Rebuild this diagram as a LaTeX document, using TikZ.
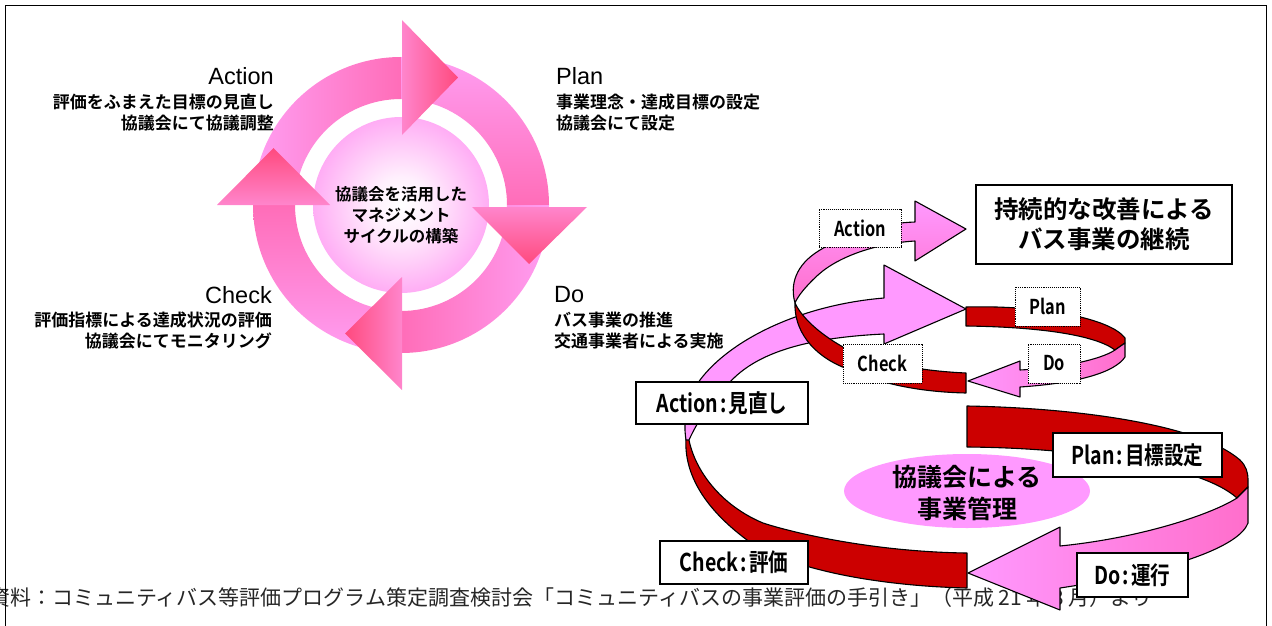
\documentclass[tikz,border=0pt]{standalone}
\usepackage{fontspec}
\setmainfont{Liberation Sans}
\newfontfamily\lsans{Liberation Sans}
\newfontfamily\jpb{Noto Sans CJK JP Bold}
\newfontfamily\jpbc{Noto Sans CJK JP Bold}[FakeStretch=0.8]
\newfontfamily\jpr{Noto Sans CJK JP}
\usetikzlibrary{calc}
\definecolor{ringL}{HTML}{FF9EF2}
\definecolor{ringD}{HTML}{FF6DB8}
\definecolor{ahL}{HTML}{FF85CC}
\definecolor{ahD}{HTML}{FF4A7E}
\definecolor{diskP}{HTML}{FF99F2}
\definecolor{pinkL}{HTML}{FF99FF}
\definecolor{pinkD}{HTML}{FF6ECB}
\definecolor{ribR}{HTML}{CC0000}
\pgfdeclareradialshading{diskshade}{\pgfpoint{0bp}{0bp}}{color(0bp)=(white); color(8bp)=(white!85!diskP); color(30bp)=(diskP); color(50bp)=(diskP)}
\newcommand{\cln}{\hspace{2pt}:\hspace{2pt}}
\tikzset{
  ribbon/.style={draw=black, line width=1.1pt, line join=round},
  redrib/.style={ribbon, fill=ribR},
  dbox/.style={draw=black, densely dotted, line width=0.9pt, fill=white, inner sep=0, font=\jpbc\fontsize{20.5}{20}\selectfont},
  sbox/.style={draw=black, line width=1.3pt, fill=white, inner sep=0, font=\jpbc\fontsize{24.5}{24}\selectfont},
  cyctitle/.style={inner sep=0, font=\lsans\fontsize{23.5}{23.5}\selectfont},
  cycdesc/.style={inner sep=0, font=\jpb\fontsize{17}{21}\selectfont}
}
\begin{document}
\begin{tikzpicture}[x=1pt,y=-1pt]
\useasboundingbox (0,0) rectangle (1272,626);

% caption
\node[anchor=west, inner sep=0, text=black!85, font=\jpr\fontsize{21}{21}\selectfont] (cap) at (-11,598)
 {資料：コミュニティバス等評価プログラム策定調査検討会「コミュニティバスの事業評価の手引き」（平成 21 年 3 月）より};

% ---------- left cycle ----------
\begin{scope}[shift={(401,205)}]
 \shade[left color=ringL, right color=ringD] (180:148) arc[start angle=180,end angle=270,radius=148] -- (270:106) arc[start angle=270,end angle=180,radius=106] -- cycle;
 \shade[top color=ringL, bottom color=ringD] (270:148) arc[start angle=270,end angle=360,radius=148] -- (0:106) arc[start angle=360,end angle=270,radius=106] -- cycle;
 \shade[right color=ringL, left color=ringD] (0:148) arc[start angle=0,end angle=90,radius=148] -- (90:106) arc[start angle=90,end angle=0,radius=106] -- cycle;
 \shade[bottom color=ringL, top color=ringD] (90:148) arc[start angle=90,end angle=180,radius=148] -- (180:106) arc[start angle=180,end angle=90,radius=106] -- cycle;
 \shade[shading=diskshade] (0,0) circle[radius=88];
\end{scope}
\shade[left color=ahL, right color=ahD] (402,20) -- (402,135) -- (458,77.5) -- cycle;
\shade[top color=ahL, bottom color=ahD] (472,207) -- (587,207) -- (529,264) -- cycle;
\shade[right color=ahL, left color=ahD] (402,277) -- (402,390) -- (345,333.5) -- cycle;
\shade[bottom color=ahL, top color=ahD] (217,205) -- (330,205) -- (273.5,148) -- cycle;

\node[align=center, inner sep=0, font=\jpb\fontsize{16.5}{21}\selectfont] (ctr) at (401,215) {協議会を活用した\\マネジメント\\サイクルの構築};

\node[cyctitle, anchor=east] (actT) at (274,76) {Action};
\node[cycdesc, anchor=east, align=right] (actD) at (274,112.5) {評価をふまえた目標の見直し\\協議会にて協議調整};
\node[cyctitle, anchor=west] (plaT) at (556,76) {Plan};
\node[cycdesc, anchor=west, align=left] (plaD) at (556,112.5) {事業理念・達成目標の設定\\協議会にて設定};
\node[cyctitle, anchor=east] (chkT) at (272,295) {Check};
\node[cycdesc, anchor=east, align=right] (chkD) at (272,330.5) {評価指標による達成状況の評価\\協議会にてモニタリング};
\node[cyctitle, anchor=west] (doT) at (554,295) {Do};
\node[cycdesc, anchor=west, align=left] (doD) at (554,330.5) {バス事業の推進\\交通事業者による実施};

% ---------- right spiral: lower loop ----------
\path[redrib] (967,406) .. controls (1080,408) and (1200,425) .. (1240,460) .. controls (1246,466) and (1248,472) .. (1248,480) -- (1248,487) -- (1237,498) .. controls (1200,465) and (1080,448) .. (967,447) -- cycle;
\path[redrib] (686,438) .. controls (684,470) and (700,505) .. (747,540) .. controls (790,570) and (880,586) .. (967,588) -- (967,553) .. controls (880,552) and (800,535) .. (763,523) .. controls (720,505) and (695,470) .. (689,440) -- cycle;
\path[ribbon, left color=pinkL, middle color=pinkL, right color=pinkD] (1237,498) -- (1248,487) -- (1248,523) .. controls (1240,545) and (1180,570) .. (1060,588) -- (1060,610) -- (968,573) -- (1060,527) -- (1060,546) .. controls (1140,538) and (1210,515) .. (1237,498) -- cycle;
\path[ribbon, fill=pinkL] (686,440) .. controls (682,415) and (690,395) .. (700,380) .. controls (730,340) and (800,305) .. (884,298) -- (884,265) -- (966,309) -- (884,344) -- (884,334) .. controls (800,338) and (755,355) .. (730,382) .. controls (712,400) and (698,420) .. (689,440) -- cycle;

\fill[pinkL] (967,491) ellipse[x radius=123, y radius=37];
\node[align=center, inner sep=0, font=\jpb\fontsize{25}{32}\selectfont] (mgmt) at (967,493) {協議会による\\事業管理};

% ---------- right spiral: upper loop ----------
\path[redrib] (966,307) .. controls (1040,305) and (1110,318) .. (1125,338) -- (1125,343) -- (1115,350) .. controls (1095,335) and (1040,327) .. (966,326) -- cycle;
\path[ribbon, left color=pinkL, right color=pinkD] (1115,350) -- (1125,343) -- (1125,357) .. controls (1115,372) and (1080,383) .. (1020,387) -- (1020,397) -- (968,381) -- (1020,361) -- (1020,370) .. controls (1060,368) and (1100,360) .. (1115,350) -- cycle;
\path[redrib] (795,303) .. controls (794,330) and (812,355) .. (845,368) .. controls (880,384) and (920,392) .. (966,393) -- (966,373) .. controls (920,371) and (870,362) .. (843,347) .. controls (820,334) and (802,318) .. (795,303) -- cycle;
\path[ribbon, top color=pinkL, bottom color=pinkD] (795,303) .. controls (790,285) and (795,265) .. (820,250) .. controls (850,232) and (885,223) .. (915,222) -- (915,201) -- (966,229) -- (915,261) -- (915,241) .. controls (880,243) and (840,255) .. (818,275) .. controls (805,287) and (798,296) .. (795,303) -- cycle;

% dotted labels
\node[dbox, minimum width=82, minimum height=38] (sAct) at (860,228) {Action};
\node[dbox, minimum width=65, minimum height=39] (sPlan) at (1047.5,306.5) {Plan};
\node[dbox, minimum width=52, minimum height=39] (sDo) at (1054,363.5) {Do};
\node[dbox, minimum width=79, minimum height=39] (sChk) at (882.5,363.5) {Check};

% solid labels
\node[draw=black, line width=1.3pt, fill=white, inner sep=0, minimum width=256, minimum height=79, align=center, font=\jpb\fontsize{24.5}{30}\selectfont] (goal) at (1104,224.5) {持続的な改善による\\バス事業の継続};
\node[sbox, minimum width=172, minimum height=42] (bAct) at (722,403) {Action\cln 見直し};
\node[sbox, minimum width=148, minimum height=43] (bChk) at (734,562.5) {Check\cln 評価};
\node[sbox, minimum width=169, minimum height=44] (bPlan) at (1137.5,455) {Plan\cln 目標設定};
\node[sbox, minimum width=111, minimum height=44] (bDo) at (1132.5,575) {Do\cln 運行};

% frame
\draw[line width=1.6pt] (5.5,626) -- (5.5,5.5) -- (1266.5,5.5) -- (1266.5,626);
\end{tikzpicture}
\end{document}
